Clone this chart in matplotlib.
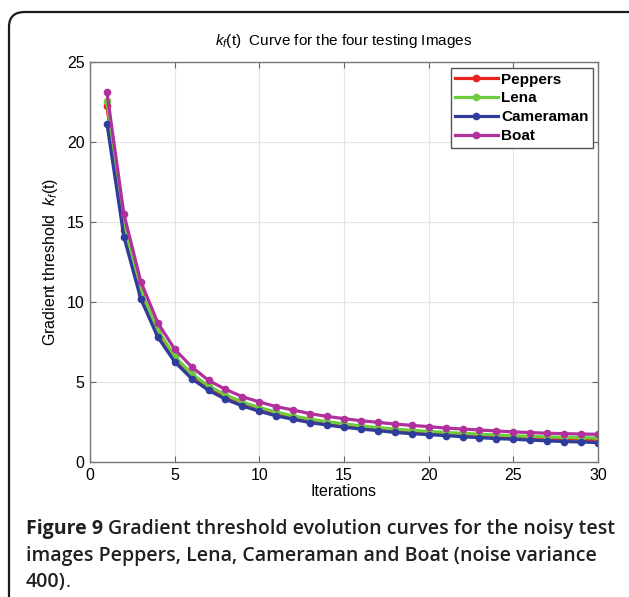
import matplotlib
matplotlib.use('Agg')
import matplotlib.pyplot as plt
from matplotlib.patches import FancyBboxPatch
import numpy as np

plt.rcParams['font.family'] = ['Liberation Sans', 'DejaVu Sans']
plt.rcParams['mathtext.fontset'] = 'custom'
plt.rcParams['mathtext.rm'] = 'Liberation Sans'
plt.rcParams['mathtext.it'] = 'Liberation Sans:italic'

# iterations and gradient threshold values
iterations = list(range(1, 31))
peppers = [22.25, 14.5, 10.5, 8.05, 6.45, 5.38, 4.62, 4.05, 3.62, 3.28,
           3.0, 2.77, 2.58, 2.42, 2.28, 2.16, 2.06, 1.97, 1.89, 1.82,
           1.75, 1.69, 1.64, 1.59, 1.55, 1.51, 1.47, 1.44, 1.42, 1.40]
lena = [22.55, 14.75, 10.7, 8.25, 6.6, 5.5, 4.76, 4.2, 3.75, 3.4,
        3.12, 2.88, 2.68, 2.52, 2.38, 2.26, 2.15, 2.06, 1.98, 1.91,
        1.85, 1.79, 1.74, 1.69, 1.64, 1.60, 1.57, 1.54, 1.52, 1.50]
cameraman = [21.15, 14.08, 10.19, 7.81, 6.26, 5.21, 4.48, 3.92, 3.5, 3.17,
             2.88, 2.67, 2.46, 2.31, 2.17, 2.06, 1.96, 1.85, 1.77, 1.71,
             1.65, 1.58, 1.52, 1.46, 1.42, 1.37, 1.32, 1.28, 1.25, 1.21]
boat = [23.1, 15.5, 11.27, 8.71, 7.05, 5.95, 5.1, 4.54, 4.08, 3.75,
        3.46, 3.25, 3.02, 2.85, 2.71, 2.58, 2.48, 2.37, 2.29, 2.21,
        2.12, 2.06, 2.0, 1.94, 1.88, 1.84, 1.80, 1.77, 1.75, 1.73]

names = ['Peppers', 'Lena', 'Cameraman', 'Boat']
colors = ['#e8231f', '#6fcb3e', '#2f3c9c', '#b0309c']

W, H = 629, 597
fig = plt.figure(figsize=(W / 100, H / 100), dpi=100)

# rounded frame, open to the right and bottom (cut off by the picture edge)
frame = FancyBboxPatch((9 / W, -0.3), 2.0, 1.3 - 12 / H,
                       boxstyle='round,pad=0,rounding_size=0.025',
                       transform=fig.transFigure, fill=False,
                       edgecolor='#1a1a1a', linewidth=1.6, clip_on=False)
fig.patches.append(frame)

ax = fig.add_axes([90 / W, 1 - 462 / H, 508 / W, 400 / H])
for y, name, c in zip([peppers, lena, cameraman, boat], names, colors):
    ax.plot(iterations, y, '-o', color=c, lw=2.3, ms=4.5, label=name)

ax.set_xlim(0, 30)
ax.set_ylim(0, 25)
ax.set_xticks(np.arange(0, 31, 5))
ax.set_yticks(np.arange(0, 26, 5))
ax.grid(True, color='#e4e4e4', lw=0.8)
ax.set_axisbelow(True)
ax.tick_params(direction='in', top=True, right=True, length=4,
               labelsize=11.5, color='#666666', pad=4)
for s in ax.spines.values():
    s.set_color('#777777')
    s.set_linewidth(1.0)

ax.set_title(r'$k_f$(t)  Curve for the four testing Images', fontsize=11, pad=12)
ax.set_xlabel('Iterations', fontsize=11.5, labelpad=1)
ax.set_ylabel(r'Gradient threshold  $k_f$(t)', fontsize=11.5, labelpad=5)

leg = ax.legend(loc='upper right', prop={'weight': 'bold', 'size': 11},
                handlelength=2.8, handletextpad=0.2, borderpad=0.3,
                labelspacing=0.32, fancybox=False, framealpha=1,
                borderaxespad=0, bbox_to_anchor=(1 - 5 / 508, 1 - 6 / 400))
leg.get_frame().set_edgecolor('#555555')
leg.get_frame().set_linewidth(1.0)

# caption
cap = dict(family=['Open Sans', 'DejaVu Sans'], fontsize=14, color='#231f20', va='baseline')
r = fig.canvas.get_renderer()
t1 = fig.text(26 / W, 1 - 534 / H, 'Figure 9', weight='bold', **cap)
bb = t1.get_window_extent(r)
fig.text((bb.x1 + 5) / W, 1 - 534 / H,
         'Gradient threshold evolution curves for the noisy test', weight='semibold', **cap)
fig.text(26 / W, 1 - 561 / H,
         'images Peppers, Lena, Cameraman and Boat (noise variance', weight='semibold', **cap)
t3 = fig.text(26 / W, 1 - 587 / H, '400)', weight='semibold', **cap)
bb3 = t3.get_window_extent(r)
fig.text(bb3.x1 / W, 1 - 587 / H, '.', weight='normal', **cap)

fig.savefig('out.png', dpi=100)
